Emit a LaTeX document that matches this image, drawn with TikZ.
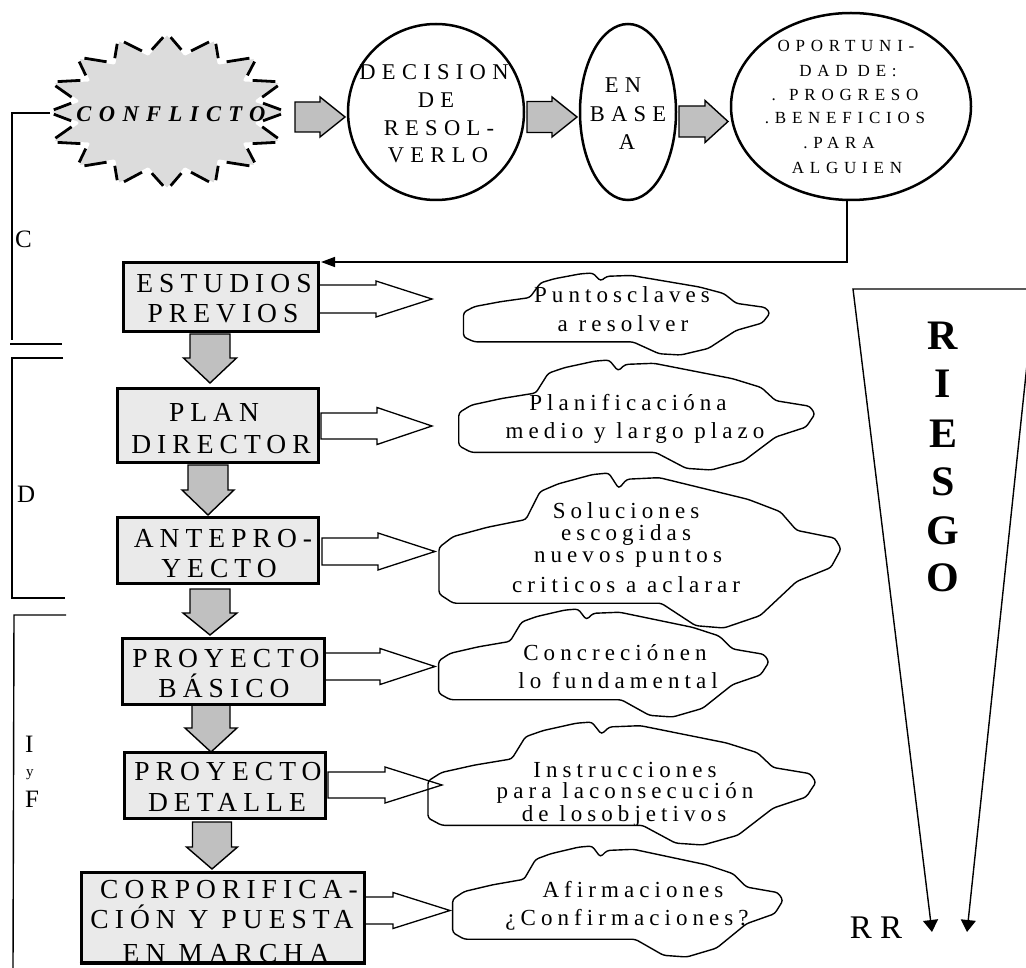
\documentclass[tikz,border=0pt]{standalone}
\usepackage{fontspec}
\setmainfont{Liberation Serif}
\newfontfamily\boxfont[LetterSpace=22]{Liberation Serif}
\newfontfamily\ovalfont[LetterSpace=28]{Liberation Serif}
\newfontfamily\smallfont[LetterSpace=34]{Liberation Serif}
\newfontfamily\cloudfont[LetterSpace=22]{Liberation Serif}
\newfontfamily\burstfont[LetterSpace=33]{Liberation Serif}
\usetikzlibrary{arrows.meta,shapes.geometric,calc}
\definecolor{arrowgray}{HTML}{C0C0C0}
\definecolor{boxgray}{HTML}{EAEAEA}
\definecolor{burstgray}{HTML}{DCDCDC}

% block arrow pointing right: [style]{x start}{x head}{x tip}{y centre}{shaft half}{head half}
\newcommand\harrow[7][]{%
  \draw[#1] (#2,{#5-#6}) -- (#3,{#5-#6}) -- (#3,{#5-#7}) -- (#4,#5)
    -- (#3,{#5+#7}) -- (#3,{#5+#6}) -- (#2,{#5+#6}) -- cycle;}
% block arrow pointing down: [style]{x centre}{y start}{y head}{y tip}{shaft half}{head half}
\newcommand\varrow[7][]{%
  \draw[#1] ({#2-#6},#3) -- ({#2+#6},#3) -- ({#2+#6},#4) -- ({#2+#7},#4)
    -- (#2,#5) -- ({#2-#7},#4) -- ({#2-#6},#4) -- cycle;}
% cloud outline in the box {x}{y}{width}{height}
\newcommand\cloudshape[4]{%
  \begin{scope}[shift={(#1,#2)}, x=#3pt, y=-#4pt]
    \draw[cloudline] (0.005,0.78) -- (0.04,0.84) -- (0.555,0.84) -- (0.64,0.985)
      -- (0.71,1.0) -- (0.80,0.92) -- (0.89,0.70) -- (0.975,0.61) -- (1.0,0.49)
      -- (0.985,0.42) -- (0.89,0.37) -- (0.85,0.25) -- (0.77,0.17) -- (0.55,0.03)
      -- (0.47,0.04) -- (0.45,0.10) -- (0.425,0.0) -- (0.385,0.01) -- (0.30,0.07)
      -- (0.255,0.12) -- (0.22,0.30) -- (0.125,0.35) -- (0.04,0.41) -- (0.005,0.48)
      -- cycle;
  \end{scope}}

\begin{document}
\begin{tikzpicture}[x=1pt,y=-1pt,
  txt/.style={anchor=base, inner sep=0pt, outer sep=0pt},
  boxtxt/.style={txt, font={\boxfont\fontsize{27.5}{31}\selectfont}},
  ovaltxt/.style={txt, font={\ovalfont\fontsize{22.5}{27}\selectfont}},
  smalltxt/.style={txt, font={\smallfont\fontsize{17}{20}\selectfont}},
  cloudtxt/.style={txt, font={\cloudfont\fontsize{23}{27}\selectfont}},
  sidetxt/.style={anchor=base west, inner sep=0pt, font={\fontsize{25}{30}\selectfont}},
  stage/.style={draw, line width=3pt, fill=boxgray, inner sep=0pt},
  oval/.style={draw, line width=2.5pt, inner sep=0pt},
  grayarrow/.style={fill=arrowgray, draw=black, line width=1.4pt, line join=miter},
  whitearrow/.style={fill=white, draw=black, line width=1.3pt, line join=miter},
  cloudline/.style={draw=black, line width=1.4pt, rounded corners=3pt},
  bline/.style={line width=1.4pt},
  rline/.style={line width=1.4pt, -{Triangle[length=12pt,width=15pt]}}]

\useasboundingbox (0,0) rectangle (1026,968);
\clip (0,0) rectangle (1026,968);
\fill[white] (0,0) rectangle (1026,968);

% ---------- starburst ----------
\foreach \x/\y [count=\i] in {167/33,185/54,215/39,219/63,257/57,245/80,283/82,257/101,
  287/112,257/123,283/142,245/144,257/167,219/161,215/185,185/169,167/190,148/169,
  118/185,114/161,77/167,88/144,50/142,77/123,48/112,77/101,50/82,88/80,77/57,114/63,
  118/39,148/54}
  \coordinate (s\i) at (\x,\y);
\fill[burstgray] (s1) \foreach \i in {2,...,32}{ -- (s\i)} -- cycle;
\draw[white, line width=3pt, line join=round] (s1) \foreach \i in {2,...,32}{ -- (s\i)} -- cycle;
\foreach \i [evaluate=\i as \j using {int(mod(\i,32)+1)}] in {1,...,32}
  \draw[line width=2.8pt] ($(s\i)!0.2!(s\j)$) -- ($(s\i)!0.8!(s\j)$);
\node[txt, font={\burstfont\fontsize{22.5}{26}\selectfont\bfseries\itshape}] (conf) at (171,122) {CONFLICTO};

% ---------- top row ----------
\node[oval, circle, minimum size=176pt] (dec) at (436,112) {};
\node[oval, ellipse, minimum width=96pt, minimum height=176pt] (base) at (628,112) {};
\node[oval, ellipse, minimum width=240pt, minimum height=187pt] (op) at (851,106.5) {};

\harrow[grayarrow]{295}{320}{345}{117}{15}{20}
\harrow[grayarrow]{527}{552}{577}{117}{15.5}{20}
\harrow[grayarrow]{679}{705}{728}{121.5}{15.5}{21}

\node[ovaltxt] (d1) at (434,80) {DECISION};
\node[ovaltxt] (d2) at (436,108) {DE};
\node[ovaltxt] (d3) at (439,136) {RESOL-};
\node[ovaltxt] (d4) at (438,163) {VERLO};

\node[ovaltxt] (e1) at (623,93) {EN};
\node[ovaltxt] (e2) at (628,122) {BASE};
\node[ovaltxt] (e3) at (627,150) {A};

\node[smalltxt] (o1) at (846,52) {OPORTUNI-};
\node[smalltxt] (o2) at (848,77) {DAD DE:};
\node[smalltxt] (o3) at (845,101) {. PROGRESO};
\node[smalltxt] (o4) at (845,124) {.BENEFICIOS};
\node[smalltxt] (o5) at (839,149) {.PARA};
\node[smalltxt] (o6) at (847,174) {ALGUIEN};

% ---------- stages ----------
\harrow[whitearrow]{319}{376}{432}{299}{14}{18}
\harrow[whitearrow]{321}{377}{432}{426}{13}{18.5}
\harrow[whitearrow]{322}{378}{435}{551.5}{13.5}{18.5}
\harrow[whitearrow]{325}{380}{435}{666.5}{13.5}{18}
\harrow[whitearrow]{328}{385}{442}{785}{13}{18}
\harrow[whitearrow]{364}{393}{450}{910.5}{13.5}{18}

\varrow[grayarrow]{210}{334}{358}{383}{20}{26.5}
\varrow[grayarrow]{208}{465}{490}{515}{20}{26}
\varrow[grayarrow]{210}{589}{613}{635}{20}{27}
\varrow[grayarrow]{211}{705}{728}{752}{19}{26}
\varrow[grayarrow]{212}{822}{847}{869}{19.5}{25.5}

\node[stage, minimum width=195pt, minimum height=69pt] (b1) at (220.5,297.5) {};
\node[stage, minimum width=201pt, minimum height=73pt] (b2) at (217.5,425.5) {};
\node[stage, minimum width=201pt, minimum height=66pt] (b3) at (217.5,550) {};
\node[stage, minimum width=202pt, minimum height=66pt] (b4) at (223,671) {};
\node[stage, minimum width=201pt, minimum height=66pt] (b5) at (224.5,785) {};
\node[stage, minimum width=283pt, minimum height=90pt] (b6) at (222.5,917) {};

\node[boxtxt] (t1a) at (224,293) {ESTUDIOS};
\node[boxtxt] (t1b) at (223,323) {PREVIOS};
\node[boxtxt] (t2a) at (214,421) {PLAN};
\node[boxtxt] (t2b) at (221,453) {DIRECTOR};
\node[boxtxt] (t3a) at (223,547) {ANTEPRO-};
\node[boxtxt] (t3b) at (219,577) {YECTO};
\node[boxtxt] (t4a) at (226,667) {PROYECTO};
\node[boxtxt] (t4b) at (224,697) {BÁSICO};
\node[boxtxt] (t5a) at (228,780) {PROYECTO};
\node[boxtxt] (t5b) at (227,811) {DETALLE};
\node[boxtxt] (t6a) at (229,898) {CORPORIFICA-};
\node[boxtxt] (t6b) at (222,928) {CIÓN Y PUESTA};
\node[boxtxt] (t6c) at (226,962) {EN MARCHA};
\draw[line width=3pt] (b6.south west) -- (b6.south east);

% ---------- feedback line ----------
\coordinate (fbturn) at (847,262);
\coordinate (fbend) at (321,262);
\draw[line width=1.5pt, -{Triangle[length=14pt,width=10pt]}]
  (op.south -| fbturn) -- (fbturn) -- (fbend);

% ---------- clouds ----------
\cloudshape{462}{273}{308}{82}
\cloudshape{457}{360}{358}{110}
\cloudshape{437}{473}{404}{155}
\cloudshape{437}{609}{332}{108}
\cloudshape{426}{722}{390}{123}
\cloudshape{451}{846}{332}{111}

\node[cloudtxt] (c1a) at (622,303) {Puntosclaves};
\node[cloudtxt] (c1b) at (623,332) {a resolver};
\node[cloudtxt] (c2a) at (628,410) {Planificacióna};
\node[cloudtxt] (c2b) at (635,438) {medio y largo plazo};
\node[cloudtxt] (c3a) at (626,518) {Soluciones};
\node[cloudtxt] (c3b) at (626,540) {escogidas};
\node[cloudtxt] (c3c) at (628,562) {nuevos puntos};
\node[cloudtxt] (c3d) at (626,592) {criticos a aclarar};
\node[cloudtxt] (c4a) at (615,660) {Concreciónen};
\node[cloudtxt] (c4b) at (618,688) {lo fundamental};
\node[cloudtxt] (c5a) at (625,777) {Instrucciones};
\node[cloudtxt] (c5b) at (625,798) {para laconsecución};
\node[cloudtxt] (c5c) at (624,821) {de losobjetivos};
\node[cloudtxt] (c6a) at (633,897) {Afirmaciones};
\node[cloudtxt] (c6b) at (627,925) {¿Confirmaciones?};

% ---------- risk wedge ----------
\coordinate (rtl) at (853,289);
\coordinate (rtr) at (1035,289);
\coordinate (rtipl) at (932,932);
\coordinate (rtipr) at (967,932);
\draw[rline] (rtr) -- (rtl) -- (rtipl);
\draw[rline] (rtr) -- (rtipr);
\foreach \l/\y [count=\i] in {R/350,I/398,E/447,S/495,G/544,O/591}
  \node[txt, font={\fontsize{42}{48}\selectfont\bfseries}] (risk\i) at (943,\y) {\l};
\node[txt, font={\fontsize{33}{38}\selectfont}] (rr) at (876,938) {R R};

% ---------- phase brackets ----------
\coordinate (cA) at (50,113);
\coordinate (cB) at (12,113);
\coordinate (cC) at (12,340);
\draw[bline] (cA) -- (cB) -- (cC);
\coordinate (sep1a) at (10,344);
\coordinate (sep1b) at (62,344);
\draw[bline] (sep1a) -- (sep1b);
\coordinate (dA) at (63,358);
\coordinate (dB) at (12,358);
\coordinate (dC) at (12,598);
\coordinate (dD) at (65,598);
\draw[bline] (dA) -- (dB) -- (dC) -- (dD);
\coordinate (fA) at (66,615);
\coordinate (fB) at (14,615);
\coordinate (fC) at (13,970);
\draw[bline] (fA) -- (fB) -- (fC);

\node[sidetxt] (labC) at (15,248) {C};
\node[sidetxt] (labD) at (17,502) {D};
\node[sidetxt] (labI) at (25,752) {I};
\node[sidetxt, font={\fontsize{15}{18}\selectfont}] (laby) at (26,776) {y};
\node[sidetxt] (labF) at (25,807) {F};
\end{tikzpicture}
\end{document}
